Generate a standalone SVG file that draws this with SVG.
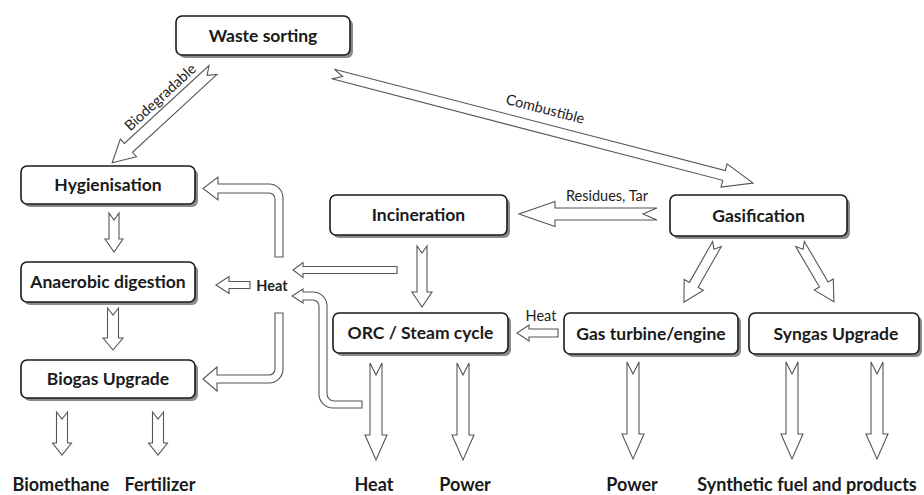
<svg xmlns="http://www.w3.org/2000/svg" width="924" height="495" viewBox="0 0 924 495">
<style>
.box{fill:#fff;stroke:#1a1a1a;stroke-width:1.6}
.shadow{fill:#8a8a8a}
.lbl{font-family:Lato,"Liberation Sans",sans-serif;font-weight:bold;font-size:17.5px;fill:#1a1a1a;text-anchor:middle}
.out{font-family:Lato,"Liberation Sans",sans-serif;font-weight:bold;font-size:18px;fill:#1a1a1a;text-anchor:middle}
.small{font-family:Lato,"Liberation Sans",sans-serif;font-size:14.5px;fill:#222;text-anchor:middle}
.arr{fill:#fff;stroke:#555;stroke-width:1.1;stroke-linejoin:miter}
</style>
<rect width="924" height="495" fill="#fff"/>
<g id="connectors">
<path class="arr" transform="translate(213,70) rotate(137.36)" d="M0,-6 L115,-6 L115,-12 L137,0 L115,12 L115,6 L0,6 L8,0 Z"/>
<path class="arr" transform="translate(333,74) rotate(14.55)" d="M0,-5 L404,-5 L404,-12 L434,0 L404,12 L404,5 L0,5 L10,0 Z"/>
<path class="arr" transform="translate(657,214) rotate(180)" d="M0,-6 L102,-6 L102,-12.5 L138,0 L102,12.5 L102,6 L0,6 L14,0 Z"/>
<path class="arr" transform="translate(717,244) rotate(119.6)" d="M0,-5 L47,-5 L47,-11 L67,0 L47,11 L47,5 L0,5 L6,0 Z"/>
<path class="arr" transform="translate(800,244) rotate(59.6)" d="M0,-5 L47,-5 L47,-11 L67,0 L47,11 L47,5 L0,5 L6,0 Z"/>
<path class="arr" transform="translate(558,333) rotate(180)" d="M0,-4 L29,-4 L29,-8 L41,0 L29,8 L29,4 L0,4 Z"/>
<path class="arr" transform="translate(422,246) rotate(90)" d="M0,-5 L46,-5 L46,-10 L61,0 L46,10 L46,5 L0,5 L7,0 Z"/>
<path class="arr" transform="translate(397,270) rotate(180)" d="M0,-3.5 L94,-3.5 L94,-7.5 L104,0 L94,7.5 L94,3.5 L0,3.5 Z"/>
<path class="arr" transform="translate(250,285) rotate(180)" d="M0,-3.5 L21,-3.5 L21,-8.5 L34,0 L21,8.5 L21,3.5 L0,3.5 Z"/>
<path class="arr" transform="translate(114,213) rotate(90)" d="M0,-5 L26,-5 L26,-9 L39,0 L26,9 L26,5 L0,5 L7,0 Z"/>
<path class="arr" transform="translate(113,308) rotate(90)" d="M0,-5.5 L30,-5.5 L30,-10 L42,0 L30,10 L30,5.5 L0,5.5 L7,0 Z"/>
<path class="arr" transform="translate(62,412) rotate(90)" d="M0,-5.5 L31,-5.5 L31,-9.5 L43,0 L31,9.5 L31,5.5 L0,5.5 L7,0 Z"/>
<path class="arr" transform="translate(158,412) rotate(90)" d="M0,-5.5 L31,-5.5 L31,-9.5 L43,0 L31,9.5 L31,5.5 L0,5.5 L7,0 Z"/>
<path class="arr" transform="translate(376,363) rotate(90)" d="M0,-6 L72,-6 L72,-11 L97,0 L72,11 L72,6 L0,6 L12,0 Z"/>
<path class="arr" transform="translate(463,363) rotate(90)" d="M0,-6 L72,-6 L72,-11 L97,0 L72,11 L72,6 L0,6 L12,0 Z"/>
<path class="arr" transform="translate(633,362) rotate(90)" d="M0,-6 L72,-6 L72,-11 L97,0 L72,11 L72,6 L0,6 L12,0 Z"/>
<path class="arr" transform="translate(792,362) rotate(90)" d="M0,-6 L72,-6 L72,-11 L97,0 L72,11 L72,6 L0,6 L12,0 Z"/>
<path class="arr" transform="translate(877,362) rotate(90)" d="M0,-6 L72,-6 L72,-11 L97,0 L72,11 L72,6 L0,6 L12,0 Z"/>
<path class="arr" d="M283,257 L283,198 A14,14 0 0 0 269,184 L218,184 L218,177 L203,188.5 L218,200 L218,193 L269,193 A6,6 0 0 1 275,199 L275,257 Z"/>
<path class="arr" d="M275,313 L275,369 A6,6 0 0 1 269,375 L217,375 L217,367 L203,379 L217,391 L217,383 L269,383 A14,14 0 0 0 283,369 L283,313 Z"/>
<path class="arr" d="M362,401 L334,401 A7,7 0 0 1 327,394 L327,306 A14,14 0 0 0 313,292 L303,292 L303,289 L292,296 L303,303 L303,300 L313,300 A6,6 0 0 1 319,306 L319,394 A14,14 0 0 0 333,408 L362,408 Z"/>
<text class="small" transform="translate(161,98) rotate(-42.6)" y="4">Biodegradable</text>
<text class="small" transform="translate(545,110) rotate(14.5)" y="4">Combustible</text>
<text class="small" x="607" y="201">Residues, Tar</text>
<text class="small" x="541" y="321">Heat</text>
<text class="small" x="272" y="291" font-weight="bold">Heat</text>
</g>
<g id="waste-sorting"><rect class="shadow" x="179" y="19" width="174" height="39" rx="6"/><rect class="box" x="176" y="16" width="174" height="39" rx="6"/><text class="lbl" x="263" y="42">Waste sorting</text></g>
<g id="hygienisation"><rect class="shadow" x="24" y="169" width="174" height="38" rx="6"/><rect class="box" x="21" y="166" width="174" height="38" rx="6"/><text class="lbl" x="108" y="191">Hygienisation</text></g>
<g id="incineration"><rect class="shadow" x="333" y="198" width="177" height="40" rx="6"/><rect class="box" x="330" y="195" width="177" height="40" rx="6"/><text class="lbl" x="418.5" y="221">Incineration</text></g>
<g id="gasification"><rect class="shadow" x="673" y="198" width="177" height="41" rx="6"/><rect class="box" x="670" y="195" width="177" height="41" rx="6"/><text class="lbl" x="758.5" y="221.5">Gasification</text></g>
<g id="anaerobic-digestion"><rect class="shadow" x="24" y="265" width="174" height="40" rx="6"/><rect class="box" x="21" y="262" width="174" height="40" rx="6"/><text class="lbl" x="108" y="288">Anaerobic digestion</text></g>
<g id="biogas-upgrade"><rect class="shadow" x="24" y="363" width="174" height="38" rx="6"/><rect class="box" x="21" y="360" width="174" height="38" rx="6"/><text class="lbl" x="108" y="385">Biogas Upgrade</text></g>
<g id="orc-steam"><rect class="shadow" x="336" y="316" width="175" height="40" rx="6"/><rect class="box" x="333" y="313" width="175" height="40" rx="6"/><text class="lbl" x="420.5" y="339">ORC / Steam cycle</text></g>
<g id="gas-turbine"><rect class="shadow" x="567" y="316" width="174" height="41" rx="6"/><rect class="box" x="564" y="313" width="174" height="41" rx="6"/><text class="lbl" x="651" y="339.5">Gas turbine/engine</text></g>
<g id="syngas-upgrade"><rect class="shadow" x="752" y="316" width="170" height="41" rx="6"/><rect class="box" x="749" y="313" width="170" height="41" rx="6"/><text class="lbl" x="836" y="339.5">Syngas Upgrade</text></g>
<g id="out-biomethane"><text class="out" x="61" y="491">Biomethane</text></g>
<g id="out-fertilizer"><text class="out" x="160" y="491">Fertilizer</text></g>
<g id="out-heat"><text class="out" x="374" y="491">Heat</text></g>
<g id="out-power1"><text class="out" x="465" y="491">Power</text></g>
<g id="out-power2"><text class="out" x="632" y="491">Power</text></g>
<g id="out-synthetic"><text class="out" x="807" y="491">Synthetic fuel and products</text></g>
</svg>
